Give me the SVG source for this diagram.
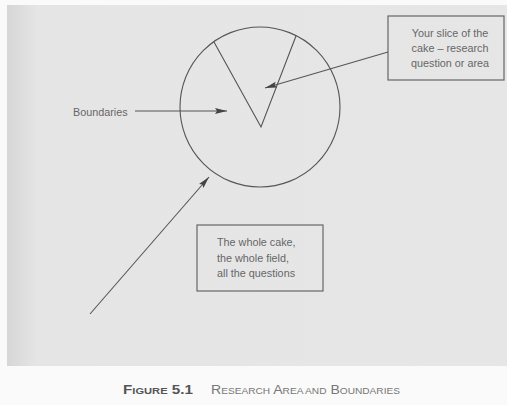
<svg xmlns="http://www.w3.org/2000/svg" width="507" height="405" viewBox="0 0 507 405">
<style>
.ln{fill:none;stroke:#555;stroke-width:1.1}
.bx{fill:none;stroke:#666;stroke-width:1.2}
.t{font-family:"Liberation Sans",Arial,sans-serif;font-size:10.8px;fill:#666}
.cap{font-family:"Liberation Sans",Arial,sans-serif;fill:#777}
</style>
<defs>
<marker id="ah" viewBox="0 0 12 6" refX="12" refY="3" markerWidth="12" markerHeight="6" markerUnits="userSpaceOnUse" orient="auto">
<path d="M0,0 L12,3 L0,6 L2,3 Z" fill="#444"/>
</marker>
<linearGradient id="edge" x1="0" x2="1" y1="0" y2="0">
<stop offset="0" stop-color="#d6d6d6"/>
<stop offset="0.06" stop-color="#e5e5e5"/>
<stop offset="1" stop-color="#e6e6e6"/>
</linearGradient>
</defs>
<rect width="507" height="405" fill="#fafafa"/>
<rect x="7" y="5" width="500" height="361" fill="url(#edge)"/>
<g id="cake">
<circle class="ln" cx="260" cy="107" r="80"/>
</g>
<g id="slice">
<polyline class="ln" points="214,42 261,127 296,36"/>
</g>
<g id="slice-label">
<rect class="bx" x="388" y="16" width="116" height="64"/>
<text class="t" text-anchor="middle" x="450" y="37">Your slice of the</text>
<text class="t" text-anchor="middle" x="450" y="52">cake – research</text>
<text class="t" text-anchor="middle" x="450" y="67">question or area</text>
</g>
<g id="boundaries-label">
<text class="t" x="73" y="116" font-size="10.4">Boundaries</text>
</g>
<g id="whole-label">
<rect class="bx" x="197" y="225" width="126" height="66"/>
<text class="t" x="217" y="246">The whole cake,</text>
<text class="t" x="217" y="262">the whole field,</text>
<text class="t" x="217" y="277">all the questions</text>
</g>
<g id="connectors">
<line class="ln" x1="388" y1="52" x2="265" y2="88" marker-end="url(#ah)"/>
<line class="ln" x1="135" y1="111" x2="227" y2="111" marker-end="url(#ah)"/>
<line class="ln" x1="90" y1="314" x2="209" y2="177" marker-end="url(#ah)"/>
</g>
<g id="caption">
<text class="cap" x="123" y="394" font-size="13" textLength="70" lengthAdjust="spacingAndGlyphs" font-weight="bold" style="fill:#555">F<tspan font-size="9.5">IGURE</tspan> 5.1</text>
<text class="cap" x="211" y="394" font-size="12.5" textLength="189" lengthAdjust="spacingAndGlyphs">R<tspan font-size="9">ESEARCH</tspan> A<tspan font-size="9">REA AND</tspan> B<tspan font-size="9">OUNDARIES</tspan></text>
</g>
</svg>
